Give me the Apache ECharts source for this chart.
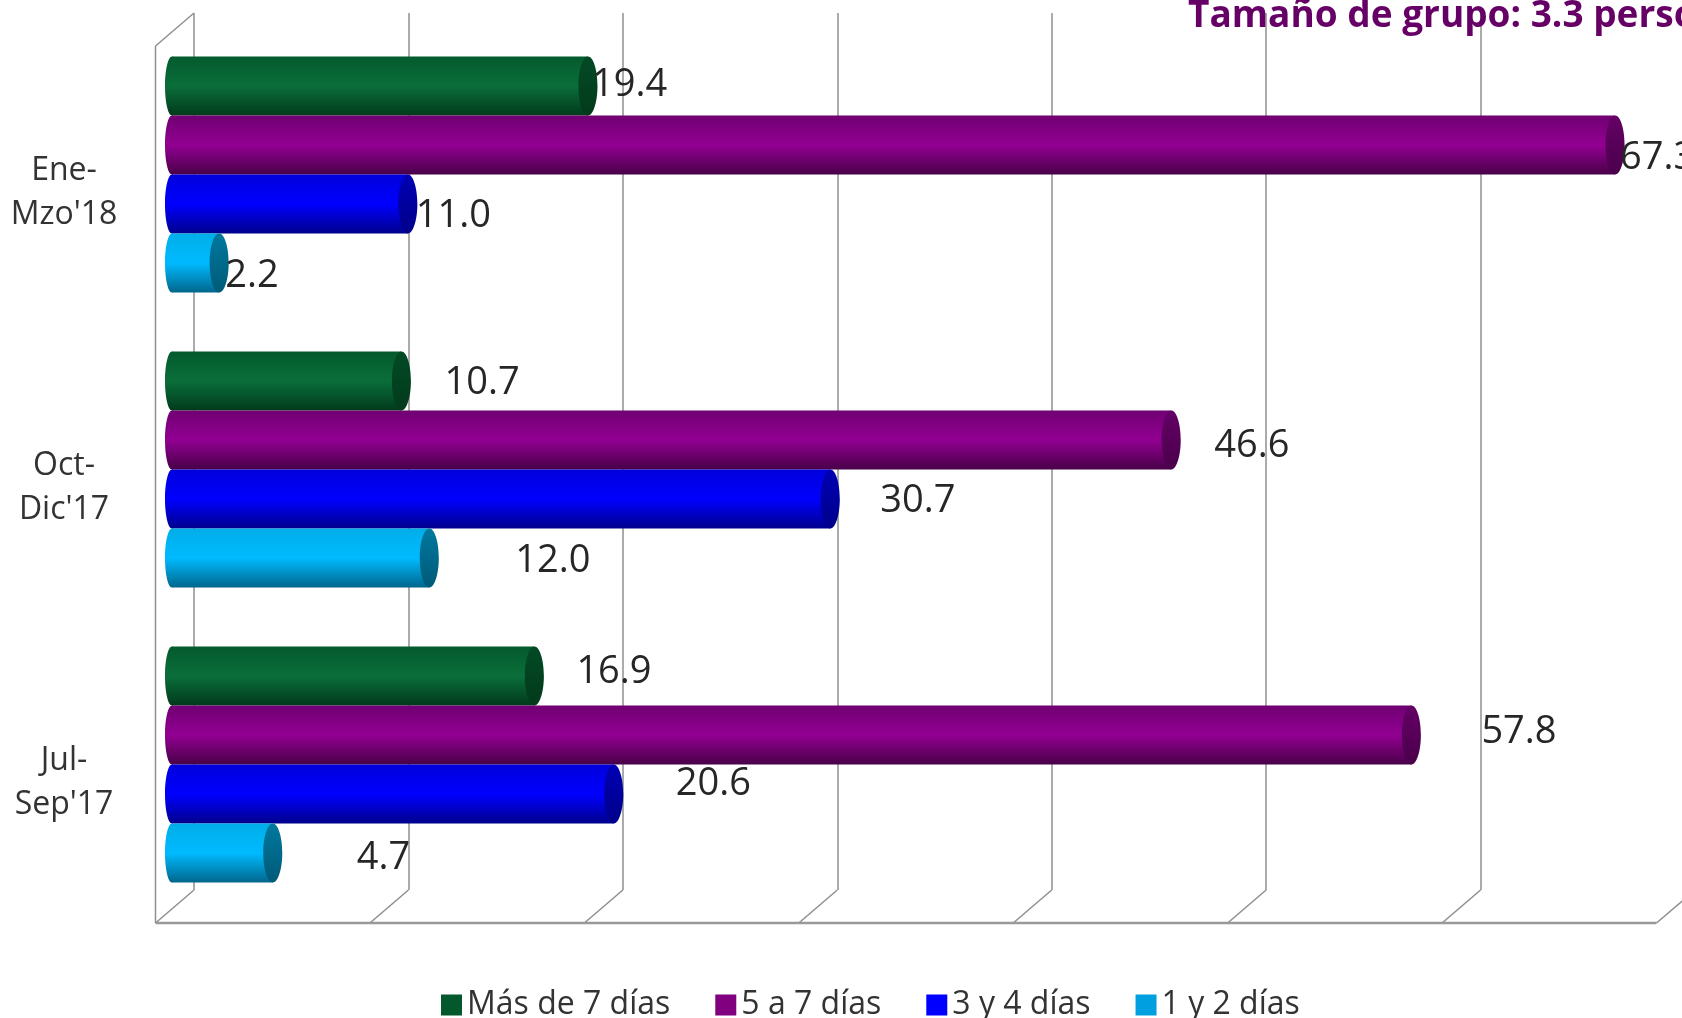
<!DOCTYPE html>
<html>
<head>
<meta charset="utf-8">
<script src="https://cdn.jsdelivr.net/npm/echarts@6/dist/echarts.min.js"></script>
<style>
  html, body { margin: 0; padding: 0; background: #fff; }
  #chart { width: 1682px; height: 1018px; }
</style>
</head>
<body>
<div id="chart"></div>
<script>
// datos
var categories = ["Ene-\nMzo'18", "Oct-\nDic'17", "Jul-\nSep'17"];
var seriesNames = ["Más de 7 días", "5 a 7 días", "3 y 4 días", "1 y 2 días"];
var masDe7 = [19.4, 10.7, 16.9];
var de5a7 = [67.3, 46.6, 57.8];
var de3y4 = [11.0, 30.7, 20.6];
var de1y2 = [2.2, 12.0, 4.7];
var xTicks = [0, 10, 20, 30, 40, 50, 60, 70];

var values = [masDe7, de5a7, de3y4, de1y2];

// estilos
var legendColors = ["#03592c", "#800080", "#0000ff", "#00a0e0"];
var bodyStops = [
  ["#045a2d", "#0a6e3a", "#013a1c"],
  ["#700072", "#920092", "#480048"],
  ["#0000dc", "#0000ff", "#00008c"],
  ["#00aee8", "#00baff", "#00668c"]
];
var capStops = [
  ["#034a25", "#023a1c"],
  ["#640066", "#4a004a"],
  ["#0000b4", "#00008a"],
  ["#00789e", "#005a78"]
];
// desplazamiento manual de etiquetas [dx, dy] por serie y categoria
var labelOffsets = [
  [[4, -1], [43, 2], [42, -4]],
  [[5, 13], [43, 6], [70, -3]],
  [[8, 12], [50, 2], [62, -10]],
  [[6, 13], [86, 3], [84, 5]]
];

var FONT = "'Open Sans', 'Noto Sans', sans-serif";
var BAND_GAP = 0.2;

function vGrad(stops) {
  var cs = [];
  for (var i = 0; i < stops.length; i++) {
    cs.push({ offset: i / (stops.length - 1), color: stops[i] });
  }
  return { type: "linear", x: 0, y: 0, x2: 0, y2: 1, colorStops: cs };
}

var series = [];
seriesNames.forEach(function (name, k) {
  series.push({
    name: name,
    type: "bar",
    xAxisIndex: 0,
    yAxisIndex: 0,
    barGap: "0%",
    barCategoryGap: "20%",
    z: 3,
    itemStyle: { color: vGrad(bodyStops[k]) },
    data: values[k]
  });
});

// tapas de los cilindros + etiquetas
var capData = [];
values.forEach(function (arr, k) {
  arr.forEach(function (v, c) { capData.push([v, c, k]); });
});

series.push({
  type: "custom",
  xAxisIndex: 0,
  yAxisIndex: 0,
  z: 4,
  silent: true,
  data: capData,
  renderItem: function (params, api) {
    var val = api.value(0), cat = api.value(1), k = api.value(2);
    var p = api.coord([val, cat]);
    var p0 = api.coord([0, cat]);
    var band = api.size([0, 1])[1];
    var barH = band * (1 - BAND_GAP) / seriesNames.length;
    var cy = p[1] - band * (1 - BAND_GAP) / 2 + barH * (k + 0.5);
    var off = labelOffsets[k][cat];
    return {
      type: "group",
      children: [
        {
          type: "ellipse",
          shape: { cx: p0[0], cy: cy, rx: 7, ry: barH / 2 },
          style: { fill: vGrad(bodyStops[k]) }
        },
        {
          type: "ellipse",
          shape: { cx: p[0], cy: cy, rx: 9.5, ry: barH / 2 },
          style: { fill: vGrad(capStops[k]) }
        },
        {
          type: "text",
          x: p[0] + off[0],
          y: cy + off[1],
          style: {
            text: val.toFixed(1),
            fontSize: 38,
            fontFamily: FONT,
            fill: "#262626",
            align: "left",
            verticalAlign: "middle"
          }
        }
      ]
    };
  }
});

// pared del fondo
series.push({
  type: "line",
  xAxisIndex: 1,
  yAxisIndex: 1,
  data: [],
  silent: true
});

var option = {
  backgroundColor: "#ffffff",
  animation: false,
  title: {
    text: "Tamaño de grupo: 3.3 personas",
    left: 1183,
    top: -7,
    textStyle: { color: "#660066", fontSize: 37, fontWeight: "bold", fontFamily: FONT }
  },
  legend: {
    left: 436,
    top: 984,
    icon: "rect",
    itemWidth: 21,
    itemHeight: 21,
    itemGap: 45,
    textStyle: { fontSize: 32, color: "#333", fontFamily: FONT },
    data: seriesNames.map(function (n, k) {
      return { name: n, itemStyle: { color: legendColors[k] } };
    })
  },
  grid: [
    { left: 172, top: 27, width: 1501, height: 885, outerBoundsMode: "none" },
    { left: 194, top: 13, width: 1501, height: 877, outerBoundsMode: "none" }
  ],
  xAxis: [
    { type: "value", gridIndex: 0, min: 0, max: 70, interval: 10, show: false },
    {
      type: "value", gridIndex: 1, min: 0, max: 70, interval: 10,
      axisLine: { show: false }, axisTick: { show: false }, axisLabel: { show: false },
      splitLine: { show: true, lineStyle: { color: "#8f8f8f", width: 1.5 } }
    }
  ],
  yAxis: [
    {
      type: "category",
      gridIndex: 0,
      inverse: true,
      data: categories,
      axisLine: { show: false },
      axisTick: { show: false },
      axisLabel: {
        align: "center",
        margin: 108,
        formatter: function (v) {
          return "{s| }\n" + v.split("\n").map(function (t) { return "{t|" + t + "}"; }).join("\n");
        },
        rich: {
          s: { lineHeight: 36, fontSize: 10 },
          t: { fontSize: 32, color: "#333", fontFamily: FONT, lineHeight: 44 }
        }
      }
    },
    { type: "value", gridIndex: 1, show: false, splitLine: { show: false } }
  ],
  series: series
};

var chart = echarts.init(document.getElementById("chart"));
chart.setOption(option);

// suelo y pared lateral en perspectiva
var DX = -38.5, DY = 33;
var backTop = 13, backBottom = 890;
var lineStyle = { stroke: "#8f8f8f", lineWidth: 1.5 };
var graphics = [];
var xs = xTicks.map(function (t) { return chart.convertToPixel({ xAxisIndex: 1 }, t); });
xs.forEach(function (bx) {
  graphics.push({
    type: "line", silent: true,
    shape: { x1: bx + DX, y1: backBottom + DY, x2: bx, y2: backBottom },
    style: lineStyle
  });
});
graphics.push({
  type: "line", silent: true,
  shape: { x1: xs[0] + DX, y1: backBottom + DY, x2: xs[xs.length - 1] + DX, y2: backBottom + DY },
  style: { stroke: "#999", lineWidth: 2.5 }
});
graphics.push({
  type: "line", silent: true,
  shape: { x1: xs[0] + DX, y1: backTop + DY, x2: xs[0] + DX, y2: backBottom + DY },
  style: lineStyle
});
graphics.push({
  type: "line", silent: true,
  shape: { x1: xs[0] + DX, y1: backTop + DY, x2: xs[0], y2: backTop },
  style: lineStyle
});
chart.setOption({ graphic: graphics });
</script>
</body>
</html>
